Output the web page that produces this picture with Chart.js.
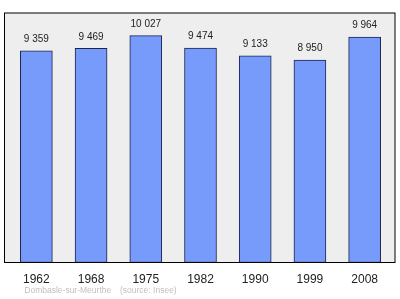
<!DOCTYPE html>
<html>
<head>
<meta charset="utf-8">
<script src="https://cdn.jsdelivr.net/npm/chart.js@4/dist/chart.umd.min.js"></script>
<style>
  html, body { margin: 0; padding: 0; background: #ffffff; }
  #wrap { width: 400px; height: 299px; }
</style>
</head>
<body>
<div id="wrap"><canvas id="myChart"></canvas></div>
<script>
// Population data
var years = ['1962', '1968', '1975', '1982', '1990', '1999', '2008'];
var population = [9359, 9469, 10027, 9474, 9133, 8950, 9964];
var yMax = 11030;
var sourceTexts = ['Dombasle-sur-Meurthe', '(source: Insee)'];

function formatNumber(n) {
  return String(n).replace(/\B(?=(\d{3})+(?!\d))/g, ' ');
}

// grey frame behind the bars
var framePlugin = {
  id: 'frame',
  beforeDraw: function(chart) {
    var ctx = chart.ctx;
    var a = chart.chartArea;
    ctx.save();
    ctx.fillStyle = '#eeeeee';
    ctx.fillRect(a.left - 4.5, a.top, a.right - a.left + 7.5, a.bottom - a.top);
    ctx.restore();
  },
  afterDatasetsDraw: function(chart) {
    var ctx = chart.ctx;
    var a = chart.chartArea;
    ctx.save();
    ctx.strokeStyle = '#000000';
    ctx.lineWidth = 1;
    ctx.strokeRect(a.left - 4.5, a.top, a.right - a.left + 7.5, a.bottom - a.top);
    ctx.restore();
  }
};

// value labels over the bars and the source line
var labelPlugin = {
  id: 'labels',
  afterDraw: function(chart) {
    var ctx = chart.ctx;
    var meta = chart.getDatasetMeta(0);
    ctx.save();
    ctx.font = '10px "Liberation Sans", Arial, sans-serif';
    ctx.fillStyle = '#222222';
    ctx.textAlign = 'center';
    ctx.textBaseline = 'middle';
    meta.data.forEach(function(bar, i) {
      ctx.fillText(formatNumber(population[i]), bar.x, bar.y - 11.5);
    });
    ctx.font = '8.5px "Liberation Sans", Arial, sans-serif';
    ctx.fillStyle = '#c0c0c0';
    ctx.textAlign = 'left';
    ctx.fillText(sourceTexts[0], chart.chartArea.left + 15.3, 291);
    ctx.fillText(sourceTexts[1], chart.chartArea.left + 111, 291);
    ctx.restore();
  }
};

var ctx = document.getElementById('myChart').getContext('2d');
window.myChart = new Chart(ctx, {
  type: 'bar',
  data: {
    labels: years,
    datasets: [{
      data: population,
      backgroundColor: '#779bfb',
      borderColor: '#1c2350',
      borderWidth: 1,
      borderSkipped: false,
      barThickness: 32
    }]
  },
  options: {
    responsive: true,
    maintainAspectRatio: false,
    animation: false,
    layout: {
      padding: { left: 9, right: 8, top: 13, bottom: 0 }
    },
    plugins: {
      legend: { display: false },
      tooltip: { enabled: false }
    },
    scales: {
      x: {
        grid: { display: false, drawTicks: false },
        border: { display: false },
        afterFit: function(scale) { scale.height = 36.5; },
        ticks: {
          color: '#222222',
          padding: 10,
          font: { family: '"Liberation Sans", Arial, sans-serif', size: 12 }
        }
      },
      y: {
        display: false,
        min: 0,
        max: yMax
      }
    }
  },
  plugins: [framePlugin, labelPlugin]
});
</script>
</body>
</html>
